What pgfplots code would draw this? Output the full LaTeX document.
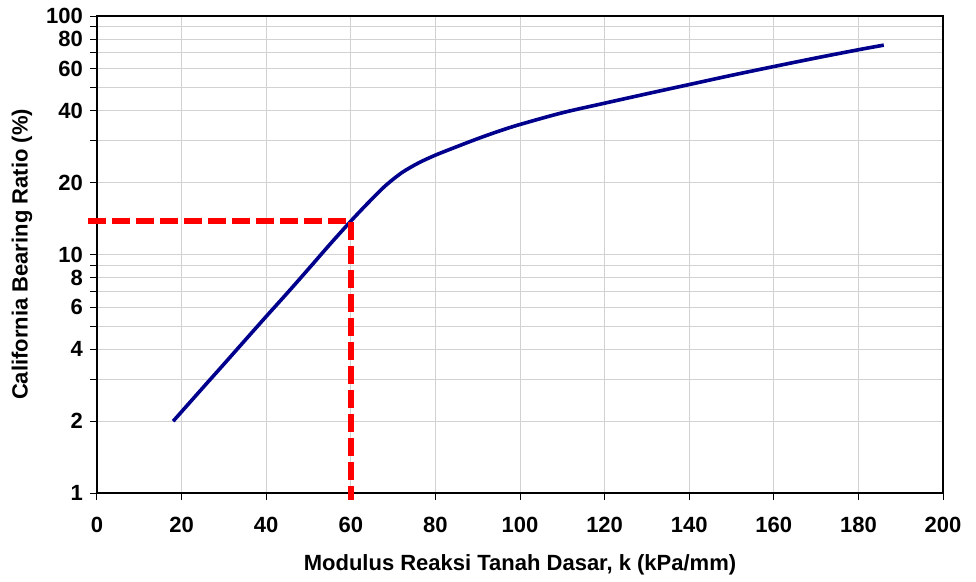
\documentclass[border=0pt]{standalone}
\usepackage{fontspec}
\setmainfont{Liberation Sans}
\usepackage{pgfplots}
\pgfplotsset{compat=1.18}
\definecolor{curveblue}{RGB}{0,0,140}
\definecolor{gridgray}{RGB}{210,210,210}
\begin{document}
\begin{tikzpicture}
\begin{axis}[
  scale only axis,
  width=423pt, height=238.5pt,
  xmin=0, xmax=200, ymin=1, ymax=100,
  ymode=log,
  clip=false,
  xtick={0,20,...,200},
  ytick={1,2,3,4,5,6,7,8,9,10,20,30,40,50,60,70,80,90,100},
  yticklabels={1,2,,4,,6,,8,,10,20,,40,,60,,80,,100},
  minor ytick={},
  log ticks with fixed point,
  grid=major,
  grid style={line width=0.5pt, draw=gridgray},
  axis line style={line width=1pt},
  tick align=outside,
  major tick length=3.5pt,
  tick style={line width=0.5pt, black},
  xtick pos=bottom, ytick pos=left,
  ticklabel style={font=\fontsize{11}{13}\selectfont\bfseries},
  xticklabel style={yshift=-5pt},
  /pgf/number format/assume math mode=true,
  xlabel={\bfseries Modulus Reaksi Tanah Dasar, k (kPa/mm)},
  ylabel={\bfseries California Bearing Ratio (\%)},
  label style={font=\fontsize{11}{13}\selectfont},
  xlabel style={at={(axis description cs:0.5,0)}, anchor=center, yshift=-36pt},
  ylabel style={at={(axis description cs:0,0.5)}, anchor=center, yshift=37.5pt},
]
\addplot[curveblue, line width=1.8pt, smooth] coordinates {
  (18,2.0) (25,2.76) (30,3.47) (35,4.37) (40,5.5) (45,6.9) (50,8.7)
  (55,11.0) (60,13.8) (64,16.4) (68,19.3) (72,22.0) (76,24.2) (80,26.1)
  (85,28.3) (90,30.6) (95,32.9) (100,35.1) (110,39.3) (120,43.1)
  (130,47.2) (140,51.6) (150,56.4) (160,61.4) (170,66.7) (180,72.2)
  (186,75.5)
};
\addplot[red, line width=3pt, dash pattern=on 8.8pt off 3.2pt] coordinates {
  (-2.1,13.8) (60,13.8) (60,0.935)
};
\end{axis}
\pgfresetboundingbox
\path[use as bounding box] ([shift={(-48.5pt,-44pt)}]current axis.south west)
  rectangle ([shift={(16.5pt,8pt)}]current axis.north east);
\end{tikzpicture}
\end{document}
